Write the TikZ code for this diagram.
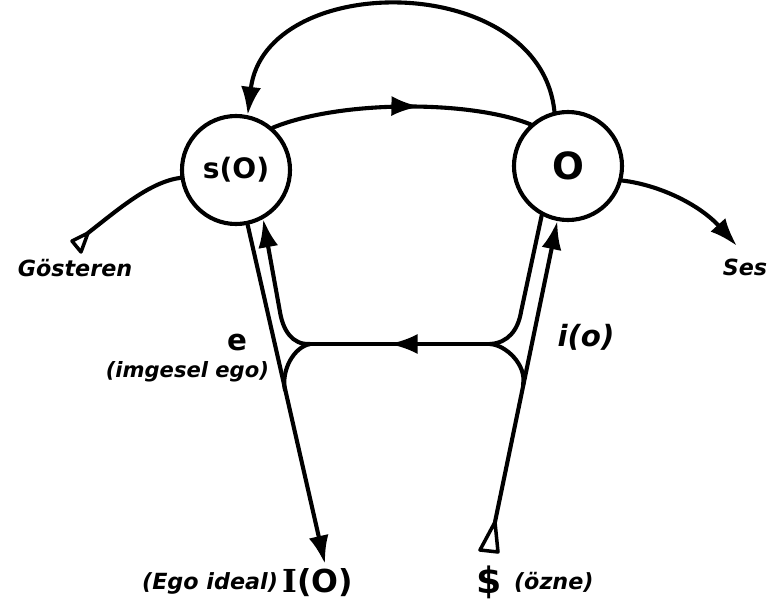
\documentclass[tikz,border=0pt]{standalone}
\usepackage{fontspec}
\setmainfont{DejaVu Sans}
\newfontfamily\serifI{DejaVu Serif}
\usetikzlibrary{arrows.meta,decorations.markings}

\begin{document}
\begin{tikzpicture}[x=0.03cm, y=-0.03cm, line width=3.5pt, line cap=round, line join=round,
          >={Latex[length=8.5mm,width=6mm]},
          ring/.style={draw, circle, minimum size=3.24cm, inner sep=0pt, font=\bfseries\fontsize{24}{28}\selectfont},
          lbl/.style={inner sep=0pt, font=\bfseries\itshape\fontsize{19}{22}\selectfont},
          big/.style={inner sep=0pt, font=\bfseries\fontsize{27}{30}\selectfont},
          midarrow/.style={postaction={decorate}, decoration={markings, mark=at position #1 with {\arrow{>}}}}]
        \useasboundingbox (0,0) rectangle (773,608);
        % the two circles
        \node[ring] (sO) at (236,170) {s(O)};
        \node[ring, font=\bfseries\fontsize{32}{34}\selectfont] (O) at (568,166) {O};
        % free ends and crossings
        \coordinate (gst) at (88,233);
        \coordinate (ses) at (737,246);
        \coordinate (cl) at (310,344);
        \coordinate (cr) at (490,344);
        \coordinate (ml) at (285,390);
        \coordinate (mr) at (523,385);
        \coordinate (bar) at (495,522);
        \coordinate (iot) at (325,564);
        % labels
        \node[lbl] (gos) at (75,268) {Gösteren};
        \node[lbl] (sesl) at (745,267) {Ses};
        \node[big, font=\bfseries\fontsize{25}{28}\selectfont] (e) at (237,342) {e};
        \node[lbl, font=\bfseries\itshape\fontsize{18}{22}\selectfont, anchor=east] (ime) at (271,372) {(imgesel ego)};
        \node[lbl, font=\bfseries\itshape\fontsize{25}{28}\selectfont] (io) at (586,337) {i(o)};
        \node[lbl, anchor=east] (egoi) at (280,583) {(Ego ideal)};
        \node[big] (IO) at (318,583) {{\serifI I}(O)};
        \node[big, font=\bfseries\fontsize{31}{34}\selectfont] (S) at (489,582) {\$};
        \node[lbl, anchor=west] (ozne) at (512,582) {(özne)};
        % start marks
        \draw[line width=3pt] (gst) -- (72,241) -- (81,252) -- cycle;
        \draw[line width=3pt] (bar) -- (480,550) -- (498,552) -- cycle;
        % chain of the signifier
        \draw[->] (O.104) .. controls (540,-30) and (265,-30) .. (sO.78);
        \draw[midarrow=0.57] (sO.49) .. controls (340,100) and (470,100) .. (O.132);
        \draw (gst) .. controls (120,208) and (150,182) .. (sO.188);
        \draw[->] (O.-15) .. controls (660,185) and (700,205) .. (ses);
        % left side
        \draw[->] (sO.-78) -- (iot);
        \draw[->] (cl) .. controls (292,345) and (283,330) .. (280,312) -- (sO.-61);
        \draw (cl) .. controls (294,347) and (281,370) .. (ml);
        % right side
        \draw[->] (bar) -- (O.-101);
        \draw (O.-118) -- (521,312) .. controls (518,330) and (508,343) .. (cr);
        \draw (cr) .. controls (506,345) and (527,365) .. (mr);
        \draw[midarrow=0.56] (cr) -- (cl);
      \end{tikzpicture}
\end{document}
